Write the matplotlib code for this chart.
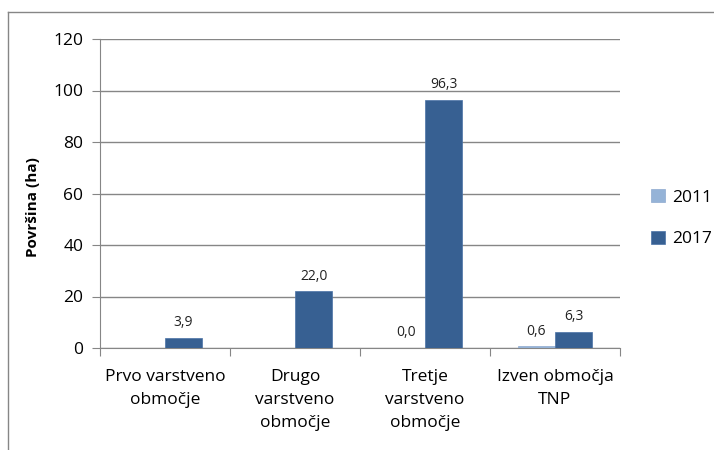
import numpy as np
import matplotlib
matplotlib.use('Agg')
import matplotlib.pyplot as plt
from matplotlib.lines import Line2D

categories = ['Prvo varstveno\nobmočje', 'Drugo\nvarstveno\nobmočje',
              'Tretje\nvarstveno\nobmočje', 'Izven območja\nTNP']
v2011 = [np.nan, np.nan, 0.0, 0.6]
v2017 = [3.9, 22.0, 96.3, 6.3]
yticks = [0, 20, 40, 60, 80, 100, 120]

plt.rcParams['font.family'] = ['Open Sans', 'DejaVu Sans']

fig = plt.figure(figsize=(7.14, 4.5), dpi=100)
ax = fig.add_axes([100 / 714, 1 - 348 / 450, 520 / 714, 309 / 450])

# outer chart frame (only top and left visible)
fig.add_artist(Line2D([8 / 714, 8 / 714], [0, 1 - 12 / 450], transform=fig.transFigure, color='#868686', lw=1))
fig.add_artist(Line2D([8 / 714, 1], [1 - 12 / 450, 1 - 12 / 450], transform=fig.transFigure, color='#868686', lw=1))

x = np.arange(len(categories))
w = 1 / 3.5
b1 = ax.bar(x - w / 2, v2011, w, color='#95B3D7', edgecolor='#8EA9CF', lw=0.5, label='2011', zorder=3)
b2 = ax.bar(x + w / 2, v2017, w, color='#376092', edgecolor='#4A72A6', lw=0.5, label='2017', zorder=3)

for rect, v in zip(b1, v2011):
    if not np.isnan(v):
        ax.text(rect.get_x() + rect.get_width() / 2, v + 3, f'{v:.1f}'.replace('.', ','),
                ha='center', va='bottom', fontsize=10, color='#222222')
for rect, v in zip(b2, v2017):
    ax.text(rect.get_x() + rect.get_width() / 2, v + 3, f'{v:.1f}'.replace('.', ','),
            ha='center', va='bottom', fontsize=10, color='#222222')

ax.set_xlim(-0.5, len(categories) - 0.5)
ax.set_ylim(0, 120)
ax.set_yticks(yticks)
ax.yaxis.grid(True, color='#868686', lw=1, zorder=0)
ax.set_axisbelow(True)

ax.set_xticks(np.arange(len(categories) + 1) - 0.5)
ax.set_xticklabels([])
ax.set_xticks(x, minor=True)
ax.set_xticklabels(categories, minor=True, fontsize=12.5, linespacing=1.6)
ax.tick_params(axis='x', which='minor', length=0, pad=15)
ax.tick_params(axis='x', which='major', length=6, color='#868686')
ax.tick_params(axis='y', length=6, color='#868686', labelsize=12.5, pad=6)

for s in ['top', 'right']:
    ax.spines[s].set_visible(False)
for s in ['left', 'bottom']:
    ax.spines[s].set_color('#868686')

ax.set_ylabel('Površina (ha)', fontsize=11, fontweight='bold')
ax.yaxis.set_label_coords(-0.116, 0.456)

ax.legend(loc='center left', bbox_to_anchor=(1.03, 0.42), frameon=False, fontsize=12.5,
          handlelength=0.8, handleheight=0.8, handletextpad=0.4, labelspacing=1.45)

fig.savefig('out.png', dpi=100)
